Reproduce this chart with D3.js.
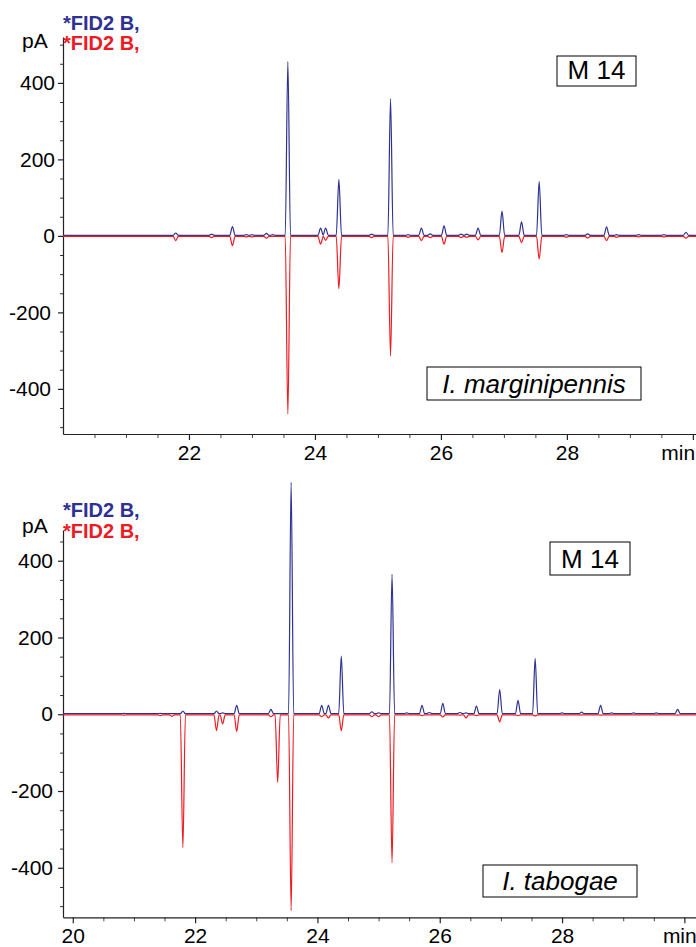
<!DOCTYPE html>
<html><head><meta charset="utf-8">
<script src="https://cdn.jsdelivr.net/npm/d3@7"></script>
<style>
body{margin:0;background:#fff;}
svg{display:block;font-family:"Liberation Sans",Arial,sans-serif;}
</style></head>
<body>
<svg id="c" width="696" height="947"></svg>
<script>
// ---------- data ----------
const xMajorTicks = [20, 22, 24, 26, 28, 30];
const yMajorTicks = [-400, -200, 0, 200, 400];
const legendLabels = ["*FID2 B,", "*FID2 B,"];
const yUnit = "pA";
const xUnit = "min";
const methodLabel = "M 14";
const speciesLabels = ["I. marginipennis", "I. tabogae"];

// top panel: I. marginipennis (retention time, blue signal, red signal inverted)
const topTimes = [21.79,22.36,22.69,22.91,23.00,23.23,23.33,23.57,24.09,24.17,24.38,24.90,25.20,25.48,25.69,25.83,26.05,26.32,26.41,26.59,26.97,27.28,27.56,27.99,28.33,28.63,28.79,29.14,29.54,29.89];
const topBlue  = [6,3,23,2,2,5,2,454,19,19,146,3,357,2,19,4,25,3,3,19,63,35,141,2,4,22,2,2,2,8];
const topRed   = [-11,-3,-24,-1,-1,-5,0,-464,-20,-10,-137,-3,-312,-2,-11,-3,-20,-3,-2,-9,-42,-16,-59,-2,-4,-11,-2,-1,-1,-5];

// bottom panel: I. tabogae
const botTimes = [20.84,21.43,21.62,21.80,22.35,22.45,22.68,23.24,23.35,23.57,24.07,24.18,24.39,24.89,25.00,25.22,25.46,25.71,25.83,26.05,26.33,26.43,26.60,26.98,27.28,27.56,28.00,28.32,28.63,28.81,29.17,29.54,29.89];
const botBlue  = [1,1,0,7,7,2,22,11,0,603,22,22,150,5,2,363,2,22,3,27,3,2,20,63,35,144,2,4,22,2,2,2,11];
const botRed   = [-1,-2,-4,-346,-41,-24,-43,-5,-176,-510,-5,-8,-41,-5,-5,-385,0,-2,0,-6,-1,-8,-2,-19,-2,-3,0,0,-1,0,0,0,-1];

const blueBase = 1.5, redBase = -1.5;

// ---------- drawing ----------
const svg = d3.select("#c");
const BLUE = "#2e3192", RED = "#ed1c24";

function buildSeries(times, vals, base, xd) {
  const w = 0.042;
  const pts = [[xd[0], base]];
  times.forEach((t, i) => {
    pts.push([t - w, base], [t, base + vals[i]], [t + w, base]);
  });
  pts.push([xd[1], base]);
  return pts;
}

function panel(cfg) {
  const x = d3.scaleLinear().domain(cfg.xd).range([63, 696]);
  const y = d3.scaleLinear().domain(cfg.yd).range(cfg.yr);
  const g = svg.append("g");

  // y axis
  const yMinor = d3.range(-500, 501, 50).filter(v => v >= cfg.yd[0] && v <= cfg.yd[1] && !yMajorTicks.includes(v));
  g.append("g").attr("transform", "translate(63,0)")
    .call(d3.axisLeft(y).tickValues(yMinor).tickSize(3).tickSizeOuter(0).tickFormat(""))
    .call(s => s.select(".domain").remove())
    .selectAll("line").attr("stroke", "#333");
  const ya = g.append("g").attr("transform", "translate(63,0)")
    .call(d3.axisLeft(y).tickValues(yMajorTicks).tickSize(5).tickSizeOuter(0).tickPadding(cfg.yPad)
      .tickFormat(d => String(d)));
  ya.selectAll("text").attr("font-size", 21).attr("fill", "#000")
    .attr("font-family", "Liberation Sans, Arial, sans-serif")
    .attr("dx", d => d < 0 ? cfg.negDx : 0);
  ya.selectAll("path,line").attr("stroke", "#222").attr("stroke-width", 1.2);

  // x axis
  const xMinor = d3.range(20.5, 30.01, 0.5).filter(v => !xMajorTicks.includes(v));
  g.append("g").attr("transform", `translate(0,${cfg.yr[0]})`)
    .call(d3.axisBottom(x).tickValues(xMinor).tickSize(4).tickSizeOuter(0).tickFormat(""))
    .call(s => s.select(".domain").remove())
    .selectAll("line").attr("stroke", "#444");
  const xa = g.append("g").attr("transform", `translate(0,${cfg.yr[0]})`)
    .call(d3.axisBottom(x).tickValues(xMajorTicks.filter(v => v >= cfg.xd[0] + 0.01 || cfg.show20))
      .tickSize(6).tickSizeOuter(0).tickPadding(5)
      .tickFormat(d => d === 30 ? xUnit : String(d)));
  xa.selectAll("text").attr("font-size", 21).attr("fill", "#000")
    .attr("font-family", "Liberation Sans, Arial, sans-serif")
    .attr("text-anchor", d => d === 30 ? "start" : "middle")
    .attr("dx", d => d === 30 ? cfg.minDx : 0);
  xa.selectAll("path,line").attr("stroke", "#222").attr("stroke-width", 1.2);

  // traces
  const line = d3.line().x(d => x(d[0])).y(d => y(d[1])).curve(d3.curveMonotoneX);
  g.append("path").datum(buildSeries(cfg.times, cfg.blue, blueBase, cfg.xd))
    .attr("d", line).attr("fill", "none").attr("stroke", BLUE).attr("stroke-width", 1.2);
  g.append("path").datum(buildSeries(cfg.times, cfg.red, redBase, cfg.xd))
    .attr("d", line).attr("fill", "none").attr("stroke", RED).attr("stroke-width", 1.2);

  // legend + unit
  g.append("text").attr("x", 63).attr("y", cfg.legY[0]).attr("fill", BLUE)
    .attr("font-size", 20).attr("font-weight", "bold").text(legendLabels[0]);
  g.append("text").attr("x", 63).attr("y", cfg.legY[1]).attr("fill", RED)
    .attr("font-size", 20).attr("font-weight", "bold").text(legendLabels[1]);
  g.append("text").attr("x", 22).attr("y", cfg.pAY).attr("fill", "#000")
    .attr("font-size", 21).text(yUnit);

  // boxes
  const mb = cfg.mBox;
  g.append("rect").attr("x", mb[0]).attr("y", mb[1]).attr("width", mb[2]).attr("height", mb[3])
    .attr("fill", "#fff").attr("stroke", "#000").attr("stroke-width", 1);
  g.append("text").attr("x", mb[0] + mb[2] / 2).attr("y", mb[1] + mb[3] - 7)
    .attr("text-anchor", "middle").attr("font-size", 26).text(methodLabel);
  const sb = cfg.sBox;
  g.append("rect").attr("x", sb[0]).attr("y", sb[1]).attr("width", sb[2]).attr("height", sb[3])
    .attr("fill", "#fff").attr("stroke", "#000").attr("stroke-width", 1);
  g.append("text").attr("x", sb[0] + sb[2] / 2).attr("y", sb[1] + sb[3] - 7)
    .attr("text-anchor", "middle").attr("font-size", 26).attr("font-style", "italic").text(cfg.species);
}

panel({
  xd: [20, 30.05], yd: [-518, 520], yr: [434, 37],
  times: topTimes, blue: topBlue, red: topRed,
  legY: [30, 50], pAY: 48, yPad: 3, negDx: -4, minDx: -32, show20: false,
  mBox: [557, 56, 79, 30], sBox: [427, 367, 214, 33], species: speciesLabels[0]
});
panel({
  xd: [19.84, 30.19], yd: [-529, 480], yr: [917.3, 530],
  times: botTimes, blue: botBlue, red: botRed,
  legY: [517, 537.5], pAY: 533, yPad: 5, negDx: 0, minDx: -22, show20: true,
  mBox: [550, 542, 80, 33], sBox: [483, 865, 154, 32], species: speciesLabels[1]
});
</script>
</body></html>
